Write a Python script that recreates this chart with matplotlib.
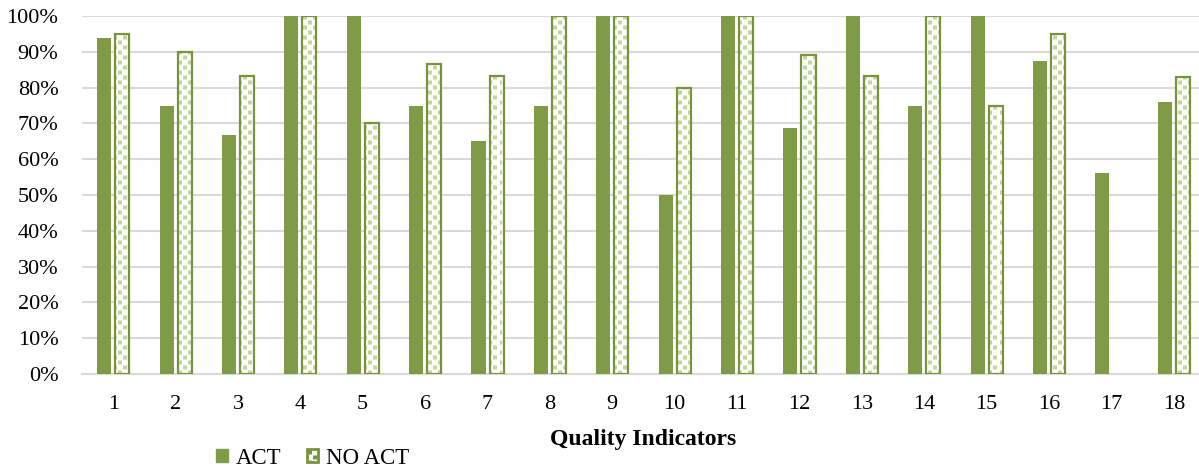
import warnings
import numpy as np
import matplotlib
matplotlib.use("Agg")
import matplotlib.pyplot as plt
import matplotlib.hatch as mhatch
from matplotlib.path import Path
from matplotlib.patches import Patch
from matplotlib.ticker import PercentFormatter

warnings.filterwarnings('ignore')
plt.rcParams['font.family'] = ['Liberation Serif', 'DejaVu Serif']
plt.rcParams['hatch.linewidth'] = 0.0

# quality indicators 1..18, share of patients (%)
indicators = [str(i) for i in range(1, 19)]
act = [93.75, 75, 66.7, 100, 100, 75, 65, 75, 100, 50, 100, 68.75, 100, 75, 100, 87.5, 56.25, 76]
no_act = [95, 90, 83.3, 100, 70, 86.7, 83.3, 100, 100, 80, 100, 89, 83.3, 100, 75, 95, np.nan, 83]

ACT_COLOR = '#7F9B48'
NOACT_EDGE = '#77933C'
NOACT_DOT = '#C3D69B'


class SquareConfetti(mhatch.HatchPatternBase):
    """Staggered small filled squares, hatch symbol 'q'."""
    cols = 10
    rows = 20
    size = 0.04

    def __init__(self, hatch, density):
        self.on = 'q' in hatch
        self.num_vertices = (self.cols * self.rows * 5) if self.on else 0

    def set_vertices_and_codes(self, vertices, codes):
        h = self.size / 2
        sq = np.array([[-h, -h], [h, -h], [h, h], [-h, h], [-h, -h]])
        sq_codes = [Path.MOVETO, Path.LINETO, Path.LINETO, Path.LINETO, Path.CLOSEPOLY]
        i = 0
        for r in range(self.rows):
            y = (r + 0.5) / self.rows
            shift = 0.5 if r % 2 else 0.0
            for c in range(self.cols):
                x = (c + 0.5 + shift) / self.cols % 1.0
                vertices[i:i + 5] = sq + [x, y]
                codes[i:i + 5] = sq_codes
                i += 5

    get_vertices_and_codes = set_vertices_and_codes


mhatch._hatch_types.append(SquareConfetti)

fig = plt.figure(figsize=(11.99, 4.68), dpi=100)
ax = fig.add_axes([82 / 1199, 94 / 468, 1123 / 1199, 358 / 468])

x = np.arange(1, len(indicators) + 1)
w = 0.225
off = 0.145

ax.bar(x - off, act, w, color=ACT_COLOR, zorder=3)
# dotted fill for NO ACT, then a separate outline on top
ax.bar(x + off, no_act, w, facecolor='white', edgecolor=NOACT_DOT, hatch='q',
       linewidth=0, zorder=3)
ax.bar(x + off, no_act, w, fill=False, edgecolor=NOACT_EDGE, linewidth=1.6, zorder=4)

ax.set_xlim(0.5, 18.5)
ax.set_ylim(0, 100)
ax.set_yticks(np.arange(0, 101, 10))
ax.yaxis.set_major_formatter(PercentFormatter(decimals=0))
ax.set_xticks(x)
ax.set_xticklabels(indicators)

ax.grid(axis='y', color='#D9D9D9', linewidth=1.5, zorder=0)
for s in ['top', 'right', 'left']:
    ax.spines[s].set_visible(False)
ax.spines['bottom'].set_color('#D9D9D9')
ax.spines['bottom'].set_linewidth(1.5)
ax.tick_params(axis='both', length=0, labelsize=16)
ax.tick_params(axis='y', pad=17)
ax.tick_params(axis='x', pad=15)

ax.set_xlabel('Quality Indicators', fontsize=17, fontweight='bold', labelpad=11)

handles = [
    Patch(facecolor=ACT_COLOR, edgecolor=ACT_COLOR),
    Patch(facecolor='white', edgecolor=NOACT_EDGE, hatch='q', linewidth=2.0),
]
fig.legend(handles, ['ACT', 'NO ACT'], loc='center',
           bbox_to_anchor=(313 / 1199, 1 - 458 / 468),
           ncol=2, frameon=False, fontsize=16.5, handlelength=0.5, handleheight=0.5,
           handletextpad=0.35, columnspacing=1.1, borderaxespad=0)

fig.savefig('out.png', dpi=100)
